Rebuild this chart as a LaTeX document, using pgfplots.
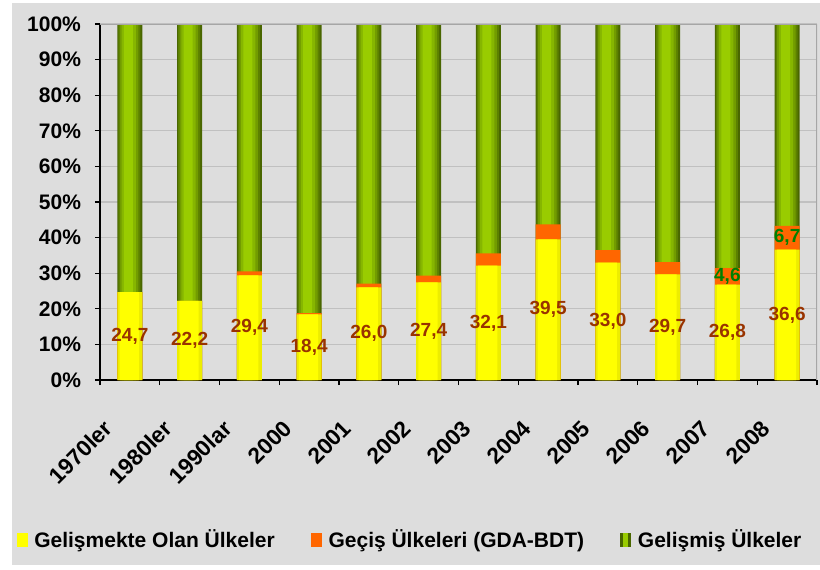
\documentclass[border=0pt]{standalone}
\usepackage{fontspec}
\setmainfont{Liberation Sans}
\usepackage{pgfplots}
\usepackage{pgfplotstable}
\pgfplotsset{compat=1.18}
\definecolor{BgGray}{HTML}{DDDDDD}
\definecolor{GridGray}{HTML}{C0C0C0}
\definecolor{FrameGray}{HTML}{A6A6A6}
\definecolor{YelMid}{HTML}{FFFF00}
\definecolor{YelEdge}{HTML}{EDED00}
\definecolor{Orng}{HTML}{FF6600}
\definecolor{GrnA}{HTML}{496600}
\definecolor{GrnB}{HTML}{5C8000}
\definecolor{GrnC}{HTML}{729C00}
\definecolor{GrnD}{HTML}{86B600}
\definecolor{GrnE}{HTML}{99CC00}
\definecolor{LblRed}{HTML}{993300}
\definecolor{LblGreen}{HTML}{008000}

% shares (%): yel = developing, cum = developing + transition, top = 100
\pgfplotstableread{
x yel cum top
0  24.7 24.7 100
1  22.2 22.2 100
2  29.4 30.5 100
3  18.4 18.8 100
4  26.0 27.1 100
5  27.4 29.3 100
6  32.1 35.6 100
7  39.5 43.7 100
8  33.0 36.5 100
9  29.7 33.1 100
10 26.8 31.4 100
11 36.6 43.3 100
}\shares

% value labels, centred in their segment
\pgfplotstableread{
x y lbl
0  12.35 24,7
1  11.10 22,2
2  14.70 29,4
3  9.20  18,4
4  13.00 26,0
5  13.70 27,4
6  16.05 32,1
7  19.75 39,5
8  16.50 33,0
9  14.85 29,7
10 13.40 26,8
11 18.30 36,6
}\lblyel
\pgfplotstableread{
x y lbl
10 29.10 4,6
11 39.95 6,7
}\lblorn

\begin{document}
\begin{tikzpicture}
  \useasboundingbox (0,0) rectangle (410pt,284.5pt);
  \fill[white] (0,0) rectangle (410pt,284.5pt);
  \fill[BgGray] (6pt,2pt) rectangle (410pt,283pt);
  \begin{axis}[
      at={(50pt,94.5pt)}, anchor=south west,
      scale only axis, width=358.5pt, height=178pt,
      ybar, bar width=0.42,
      xmin=-0.5, xmax=11.5, ymin=0, ymax=100,
      axis lines*=left,
      axis line style={black,line width=0.7pt},
      xtick={-0.5,0.5,...,11.5},
      x tick label as interval,
      xticklabels={1970ler,1980ler,1990lar,2000,2001,2002,2003,2004,2005,2006,2007,2008},
      xticklabel style={xshift=-10pt,yshift=-19pt,rotate=45,anchor=east,inner sep=1pt,
        font=\bfseries\fontsize{11.3}{12}\selectfont},
      ytick={0,10,...,100},
      yticklabels={0\%,10\%,20\%,30\%,40\%,50\%,60\%,70\%,80\%,90\%,100\%},
      yticklabel style={xshift=-3.5pt,font=\bfseries\fontsize{10.5}{12}\selectfont},
      tick align=outside, major tick length=2.5pt,
      tick style={black,line width=0.6pt},
      ymajorgrids, grid style={GridGray,line width=0.6pt},
      legend columns=3,
      legend cell align=left,
      legend style={at={(-0.117,-0.449)},anchor=west,draw=none,fill=none,
        inner sep=0pt,font=\bfseries\fontsize{10.5}{12}\selectfont,
        /tikz/every even column/.append style={column sep=16pt}},
    ]
    \addlegendimage{legend image code/.code={%
      \fill[YelMid] (0pt,-3.25pt) rectangle (5pt,3.25pt); \path (6.5pt,0);}}
    \addlegendentry{Gelişmekte Olan Ülkeler}
    \addlegendimage{legend image code/.code={%
      \fill[Orng] (0pt,-3.25pt) rectangle (5pt,3.25pt); \path (6.5pt,0);}}
    \addlegendentry{Geçiş Ülkeleri (GDA-BDT)}
    \addlegendimage{legend image code/.code={%
      \fill[GrnA] (0pt,-3.25pt) rectangle (5pt,3.25pt);
      \fill[GrnE] (1.2pt,-3.25pt) rectangle (3.2pt,3.25pt); \path (6.5pt,0);}}
    \addlegendentry{Gelişmiş Ülkeler}
    % developed (green), layered for the cylinder shading
    \addplot[forget plot,draw=none,fill=GrnA,bar width=0.42,bar shift=0]
      table[x=x,y=top]{\shares};
    \addplot[forget plot,draw=none,fill=GrnB,bar width=0.37,bar shift=-0.008]
      table[x=x,y=top]{\shares};
    \addplot[forget plot,draw=none,fill=GrnC,bar width=0.31,bar shift=-0.014]
      table[x=x,y=top]{\shares};
    \addplot[forget plot,draw=none,fill=GrnD,bar width=0.24,bar shift=-0.02]
      table[x=x,y=top]{\shares};
    \addplot[forget plot,draw=none,fill=GrnE,bar width=0.15,bar shift=-0.025]
      table[x=x,y=top]{\shares};
    % transition (orange)
    \addplot[forget plot,draw=none,fill=Orng,bar width=0.42,bar shift=0]
      table[x=x,y=cum]{\shares};
    % developing (yellow)
    \addplot[forget plot,draw=none,fill=YelEdge,bar width=0.42,bar shift=0]
      table[x=x,y=yel]{\shares};
    \addplot[forget plot,draw=none,fill=YelMid,bar width=0.32,bar shift=-0.01]
      table[x=x,y=yel]{\shares};
    \draw[FrameGray,line width=0.6pt] (rel axis cs:0,1) -- (rel axis cs:1,1) -- (rel axis cs:1,0);
  \end{axis}
  \begin{axis}[
      at={(50pt,94.5pt)}, anchor=south west,
      scale only axis, width=358.5pt, height=178pt,
      xmin=-0.5, xmax=11.5, ymin=0, ymax=100,
      hide axis,
    ]
    \addplot[draw=none,nodes near coords,point meta=explicit symbolic,
      every node near coord/.style={anchor=center,text=LblRed,
        font=\bfseries\fontsize{9.5}{10}\selectfont}]
      table[x=x,y=y,meta=lbl]{\lblyel};
    \addplot[draw=none,nodes near coords,point meta=explicit symbolic,
      every node near coord/.style={anchor=center,text=LblGreen,
        font=\bfseries\fontsize{9.5}{10}\selectfont}]
      table[x=x,y=y,meta=lbl]{\lblorn};
  \end{axis}
\end{tikzpicture}
\end{document}
